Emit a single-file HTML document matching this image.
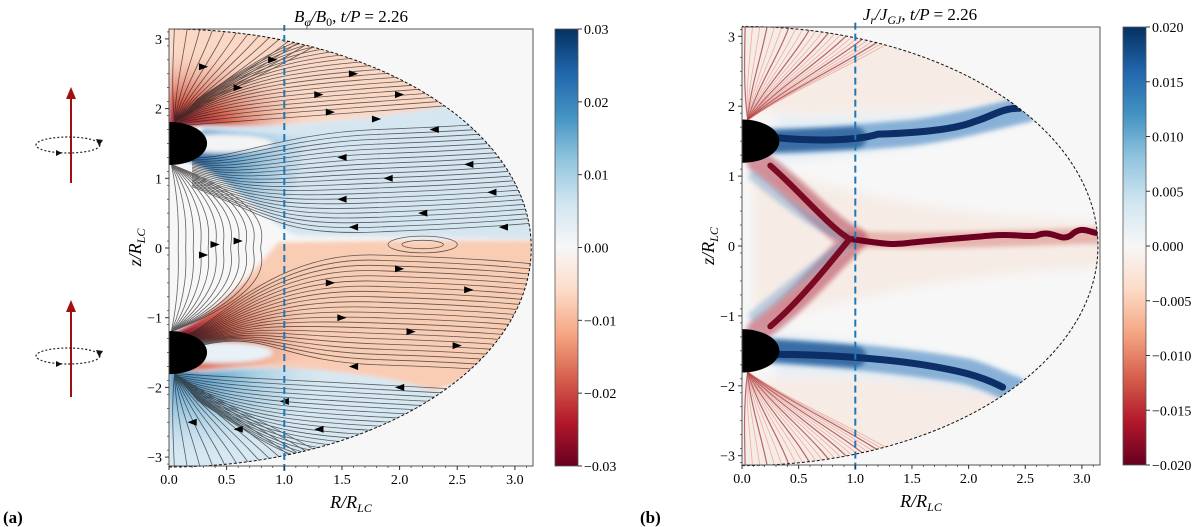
<!DOCTYPE html>
<html><head><meta charset="utf-8">
<style>
body{margin:0;background:#fff;}
svg{display:block;font-family:"Liberation Serif",serif;}
</style></head>
<body>
<svg id="fig" width="1200" height="527" viewBox="0 0 1200 527" xmlns="http://www.w3.org/2000/svg">
<defs>
<linearGradient id="rdbu" x1="0" y1="1" x2="0" y2="0">
<stop offset="0" stop-color="#67001f"/><stop offset="0.1" stop-color="#b2182b"/><stop offset="0.2" stop-color="#d6604d"/><stop offset="0.3" stop-color="#f4a582"/><stop offset="0.4" stop-color="#fddbc7"/><stop offset="0.5" stop-color="#f7f7f7"/><stop offset="0.6" stop-color="#d1e5f0"/><stop offset="0.7" stop-color="#92c5de"/><stop offset="0.8" stop-color="#4393c3"/><stop offset="0.9" stop-color="#2166ac"/><stop offset="1" stop-color="#053061"/>
</linearGradient>
<radialGradient id="redU" gradientUnits="userSpaceOnUse" cx="0.1" cy="1.7" r="1.2"><stop offset="0" stop-color="#8b0a26"/><stop offset="0.35" stop-color="#d6604d"/><stop offset="1" stop-color="#fbd3c0" stop-opacity="0"/></radialGradient>
<radialGradient id="redL" gradientUnits="userSpaceOnUse" cx="0.1" cy="-1.25" r="1.2"><stop offset="0" stop-color="#8b0a26"/><stop offset="0.35" stop-color="#d6604d"/><stop offset="1" stop-color="#f8c3a7" stop-opacity="0"/></radialGradient>
<radialGradient id="blueU" gradientUnits="userSpaceOnUse" cx="0.15" cy="1.25" r="1.3"><stop offset="0" stop-color="#2166ac"/><stop offset="0.4" stop-color="#7fb5d8"/><stop offset="1" stop-color="#d6e7f1" stop-opacity="0"/></radialGradient>
<radialGradient id="blueL" gradientUnits="userSpaceOnUse" cx="0.15" cy="-1.8" r="1.3"><stop offset="0" stop-color="#4a90c2"/><stop offset="0.4" stop-color="#9cc8e0"/><stop offset="1" stop-color="#d6e7f1" stop-opacity="0"/></radialGradient>
<clipPath id="clipL" clipPathUnits="userSpaceOnUse"><path d="M0,-3.1416 A3.1416,3.1416 0 0 1 0,3.1416 Z"/></clipPath>
<clipPath id="clipBox" clipPathUnits="userSpaceOnUse"><rect x="0" y="-3.2" width="3.2" height="6.4"/></clipPath>
<filter id="blur" x="-0.2" y="-0.2" width="1.4" height="1.4"><feGaussianBlur stdDeviation="0.02 0.03"/></filter>
<filter id="blurB" x="-0.3" y="-0.3" width="1.6" height="1.6"><feGaussianBlur stdDeviation="0.05 0.08"/></filter>
</defs>

<!-- LEFT PANEL -->
<g>
<rect x="169" y="29" width="364" height="437" fill="#f7f7f7"/>
<g transform="translate(169,248) scale(115.3,-69.7)">
<g clip-path="url(#clipL)" id="fieldA">
<g filter="url(#blur)">
<path d="M0,1.8 L0.3,1.78 C1,1.72 2,1.88 2.6,2.1 L3.3,3.3 L0,3.3 Z" fill="#fbd8c6"/>
<path d="M0,1.75 L0.3,1.76 C0.8,1.74 1.2,1.75 1.4,1.8 L0.6,3.3 L0,3.3 Z" fill="url(#redU)"/>
<path d="M0.1,1.3 C0.5,1.05 0.8,0.4 1.1,0.18 C1.6,0.16 2.5,0.15 3.3,0.12 L3.3,1.5 L2.6,2.1 C2,1.88 1,1.72 0.3,1.74 Z" fill="#d5e6f1"/>
<path d="M0.1,1.3 C0.5,1.05 0.8,0.5 1.0,0.3 L1.2,1.6 L0.3,1.7 Z" fill="url(#blueU)"/>
<path d="M0,-1.25 C0.4,-1.0 0.7,-0.4 0.95,0.08 C1.6,0.1 2.5,0.12 3.3,0.1 L3.3,-1.5 L2.3,-2.05 C2,-1.85 1,-1.62 0.3,-1.75 L0,-1.75 Z" fill="#f9ccb4"/>
<path d="M0,-1.25 C0.4,-1.0 0.7,-0.4 0.95,0.08 L1.3,-1.6 L0.3,-1.75 L0,-1.75 Z" fill="url(#redL)"/>
<path d="M0,-1.8 L0.3,-1.78 C1,-1.62 2,-1.85 2.3,-2.05 L3.3,-2.0 L3.3,-3.3 L0,-3.3 Z" fill="#d7e8f2"/>
<path d="M0,-1.75 L0.3,-1.78 C0.8,-1.7 1.2,-1.7 1.4,-1.75 L0.6,-3.3 L0,-3.3 Z" fill="url(#blueL)"/>
<ellipse cx="0.45" cy="1.5" rx="0.45" ry="0.13" fill="#f4f4f4"/>
<ellipse cx="0.45" cy="-1.5" rx="0.45" ry="0.15" fill="#e8f1f7"/>
</g>
<g id="streamL" fill="none" stroke="#222" opacity="0.7"></g>
</g>
<path d="M0,-3.1416 A3.1416,3.1416 0 0 1 0,3.1416" fill="none" stroke="#111" stroke-width="1" stroke-dasharray="3,2" vector-effect="non-scaling-stroke"/>
<g clip-path="url(#clipBox)">
<ellipse cx="0" cy="1.5" rx="0.33" ry="0.31" fill="#000"/>
<ellipse cx="0" cy="-1.5" rx="0.33" ry="0.31" fill="#000"/>
</g>
<line x1="1" y1="-3.2" x2="1" y2="3.2" stroke="#1f77b4" stroke-width="2" stroke-dasharray="7,4" vector-effect="non-scaling-stroke"/>
</g>
<rect x="169" y="29" width="364" height="437" fill="none" stroke="#555" stroke-width="1"/>
<g id="axesA"></g>
<text x="351" y="22" font-size="17" text-anchor="middle" font-style="italic">B<tspan font-size="12" dy="4">φ</tspan><tspan dy="-4">/B</tspan><tspan font-size="12" dy="4" font-style="normal">0</tspan><tspan dy="-4" font-style="normal">, </tspan> t/P <tspan font-style="normal">= 2.26</tspan></text>
<rect x="555" y="29" width="23" height="437" fill="url(#rdbu)" stroke="#555" stroke-width="0.8"/>
<g id="cbA"></g>
</g>

<!-- RIGHT PANEL -->
<g>
<rect x="742" y="27" width="358" height="438" fill="#f7f7f7"/>
<g transform="translate(742,246) scale(113.3,-69.9)">
<g clip-path="url(#clipL)">
<g filter="url(#blurB)">
<path d="M0,2 L0.3,1.9 C1,1.85 2,2.0 2.5,2.1 L3.3,3.3 L0,3.3 Z" fill="#f6e2d8" opacity="0.6"/>
<path d="M0.1,1.1 C0.8,0.9 1.5,0.4 3.3,0.35 L3.3,-0.3 C1.5,-0.4 0.8,-0.9 0.1,-1.1 Z" fill="#f6e0d4" opacity="0.5"/>
<path d="M0,-1.95 L0.3,-1.9 C1,-1.85 2,-2.0 2.5,-2.1 L3.3,-3.3 L0,-3.3 Z" fill="#f6e2d8" opacity="0.6"/>
<path d="M0.3,1.85 C1,1.8 2,1.95 2.6,2.05 L2.6,1.9 C2,1.5 1,1.3 0.3,1.2 Z" fill="#e3edf4"/>
<path d="M0.3,-1.85 C1,-1.8 2,-2.05 2.5,-2.2 L2.6,-1.95 C2,-1.6 1,-1.35 0.3,-1.25 Z" fill="#e3edf4"/>
</g>
<g id="streaksR" fill="none"></g>
<g fill="none" stroke-linecap="round" filter="url(#blur)">
<path d="M0.25,1.5 C0.6,1.5 1.0,1.55 1.5,1.62 C1.9,1.7 2.2,1.85 2.5,1.95" stroke="#3d7fbd" stroke-width="26" vector-effect="non-scaling-stroke" opacity="0.55"/>
<path d="M0.25,-1.5 C0.8,-1.55 1.5,-1.65 2.0,-1.8 C2.2,-1.9 2.3,-2.0 2.4,-2.05" stroke="#3d7fbd" stroke-width="26" vector-effect="non-scaling-stroke" opacity="0.55"/>
<path d="M0.3,1.5 L1.0,1.55 M0.3,-1.5 L1.0,-1.58" stroke="#1b4f8f" stroke-width="22" vector-effect="non-scaling-stroke" opacity="0.7"/>
<path d="M0.15,1.2 C0.5,0.8 0.8,0.2 1.0,0.1 M0.15,-1.2 C0.5,-0.8 0.8,-0.2 1.0,0.1" stroke="#a51c30" stroke-width="24" vector-effect="non-scaling-stroke" opacity="0.45"/>
<path d="M0.1,1.0 C0.4,0.6 0.7,0.2 1.0,0.1 M0.1,-1.0 C0.4,-0.6 0.7,-0.2 1.0,0.1" stroke="#6a9ccc" stroke-width="10" vector-effect="non-scaling-stroke" opacity="0.4"/>
<path d="M0.95,0.1 C1.5,0.05 2.2,0.1 3.15,0.15" stroke="#c0392b" stroke-width="16" vector-effect="non-scaling-stroke" opacity="0.3"/>
</g>
<g fill="none" stroke-linecap="round">
<path d="M0.3,1.55 C0.6,1.5 1.0,1.5 1.2,1.6 C1.6,1.62 1.9,1.68 2.05,1.78 C2.2,1.85 2.3,1.98 2.45,1.97" stroke="#0b2f66" stroke-width="7" vector-effect="non-scaling-stroke"/>
<path d="M0.3,-1.55 C0.7,-1.55 1.2,-1.6 1.6,-1.7 C1.9,-1.78 2.1,-1.85 2.3,-2.02" stroke="#0b2f66" stroke-width="7" vector-effect="non-scaling-stroke"/>
<path d="M0.95,0.1 C1.2,0.05 1.3,0.0 1.5,0.05 C1.8,0.1 2.0,0.12 2.2,0.15 C2.4,0.18 2.5,0.12 2.6,0.15 C2.75,0.25 2.8,0.05 2.9,0.15 C3.0,0.3 3.05,0.2 3.15,0.18" stroke="#6d0020" stroke-width="6" vector-effect="non-scaling-stroke"/>
<path d="M0.25,1.15 C0.5,0.8 0.75,0.3 0.95,0.1 M0.25,-1.15 C0.5,-0.8 0.75,-0.3 0.95,0.1" stroke="#7a0a22" stroke-width="6" vector-effect="non-scaling-stroke"/>
</g>
</g>
<path d="M0,-3.1416 A3.1416,3.1416 0 0 1 0,3.1416" fill="none" stroke="#111" stroke-width="1" stroke-dasharray="3,2" vector-effect="non-scaling-stroke"/>
<g clip-path="url(#clipBox)">
<ellipse cx="0" cy="1.5" rx="0.33" ry="0.31" fill="#000"/>
<ellipse cx="0" cy="-1.5" rx="0.33" ry="0.31" fill="#000"/>
</g>
<line x1="1" y1="-3.2" x2="1" y2="3.2" stroke="#1f77b4" stroke-width="2" stroke-dasharray="7,4" vector-effect="non-scaling-stroke"/>
</g>
<rect x="742" y="27" width="358" height="438" fill="none" stroke="#555" stroke-width="1"/>
<g id="axesB"></g>
<text x="920" y="20" font-size="17" text-anchor="middle" font-style="italic">J<tspan font-size="12" dy="4">r</tspan><tspan dy="-4">/J</tspan><tspan font-size="12" dy="4">GJ</tspan><tspan dy="-4" font-style="normal">, </tspan> t/P <tspan font-style="normal">= 2.26</tspan></text>
<rect x="1123" y="27" width="23" height="438" fill="url(#rdbu)" stroke="#555" stroke-width="0.8"/>
<g id="cbB"></g>
</g>

<!-- rotating dipole icons -->
<g>
<line x1="71" y1="183" x2="71" y2="96" stroke="#a01010" stroke-width="2"/>
<polygon points="71,87 66,99 76,99" fill="#a01010"/>
<ellipse cx="68" cy="145" rx="32" ry="8" fill="none" stroke="#222" stroke-width="1.2" stroke-dasharray="2,2"/>
<polygon points="99,146 96,139 103,140" fill="#111"/>
<polygon points="62,153 56,150 56,156" fill="#111"/>
</g>
<g>
<line x1="71" y1="397" x2="71" y2="309" stroke="#a01010" stroke-width="2"/>
<polygon points="71,300 66,312 76,312" fill="#a01010"/>
<ellipse cx="68" cy="356" rx="32" ry="8" fill="none" stroke="#222" stroke-width="1.2" stroke-dasharray="2,2"/>
<polygon points="99,357 96,350 103,351" fill="#111"/>
<polygon points="62,364 56,361 56,367" fill="#111"/>
</g>
<text x="3" y="523" font-size="17" font-weight="bold">(a)</text>
<text x="640" y="523" font-size="17" font-weight="bold">(b)</text>
</svg>

<script>
const xTicks = [0.0, 0.5, 1.0, 1.5, 2.0, 2.5, 3.0];
const xTickLabels = ["0.0","0.5","1.0","1.5","2.0","2.5","3.0"];
const yTicks = [3, 2, 1, 0, -1, -2, -3];
const yTickLabels = ["3","2","1","0","\u22121","\u22122","\u22123"];
const cbTicksA = [0.03, 0.02, 0.01, 0.00, -0.01, -0.02, -0.03];
const cbLabelsA = ["0.03","0.02","0.01","0.00","\u22120.01","\u22120.02","\u22120.03"];
const cbTicksB = [0.020, 0.015, 0.010, 0.005, 0.000, -0.005, -0.010, -0.015, -0.020];
const cbLabelsB = ["0.020","0.015","0.010","0.005","0.000","\u22120.005","\u22120.010","\u22120.015","\u22120.020"];

const NS = "http://www.w3.org/2000/svg";
function mk(tag, attrs, parent){const e=document.createElementNS(NS,tag);for(const k in attrs)e.setAttribute(k,attrs[k]);parent.appendChild(e);return e;}

function axes(gid, x0, y0, sx, sy, left, top, w, h){
  const g=document.getElementById(gid);
  xTicks.forEach((v,i)=>{
    const x=x0+v*sx;
    const t=mk('line',{x1:x,y1:top+h,x2:x,y2:top+h+4,stroke:'#333'},g);
    
    
    const l=mk('text',{x:x,y:top+h+18,'font-size':14,'text-anchor':'middle'},g);
    l.textContent=xTickLabels[i];
    
    
  });
  for(let v=0.1; v<3.15; v+=0.1){const x=x0+v*sx;mk('line',{x1:x,y1:top+h,x2:x,y2:top+h+2,stroke:'#333','stroke-width':0.7},g);}
  yTicks.forEach((v,i)=>{
    const y=y0-v*sy;
    const t=mk('line',{x1:left-4,y1:y,x2:left,y2:y,stroke:'#333'},g);
    
    
    const l=mk('text',{x:left-7,y:y+5,'font-size':14,'text-anchor':'end'},g);
    l.textContent=yTickLabels[i];
    
    
  });
  for(let v=-3.1; v<3.15; v+=0.2){const y=y0-v*sy;mk('line',{x1:left-2,y1:y,x2:left,y2:y,stroke:'#333','stroke-width':0.7},g);}
  const xl=mk('text',{x:left+w/2,y:top+h+42,'font-size':18,'text-anchor':'middle','font-style':'italic'},g);
  xl.innerHTML='R/R<tspan font-size="12" dy="4">LC</tspan>';
  
  
  const yl=mk('text',{x:0,y:0,'font-size':18,'text-anchor':'middle','font-style':'italic',transform:`translate(${left-28},${top+h/2}) rotate(-90)`},g);
  yl.innerHTML='z/R<tspan font-size="12" dy="4">LC</tspan>';
  
  
}
axes('axesA',169,248,115.3,69.7,169,29,364,437);
axes('axesB',742,246,113.3,69.9,742,27,358,438);

function cbar(gid, ticks, labels, x, top, h, vmax){
  const g=document.getElementById(gid);
  ticks.forEach((v,i)=>{
    const y=top+h*(vmax-v)/(2*vmax);
    const t=mk('line',{x1:x,y1:y,x2:x+4,y2:y,stroke:'#333'},g);
    
    
    const l=mk('text',{x:x+6,y:y+5,'font-size':14},g);
    l.textContent=labels[i];
    
    
  });
}
cbar('cbA',cbTicksA,cbLabelsA,578,29,437,0.03);
cbar('cbB',cbTicksB,cbLabelsB,1146,27,438,0.02);

const VE={'vector-effect':'non-scaling-stroke','stroke-width':0.8};
function sp(d,parent){return mk('path',Object.assign({d:d},VE),parent);}
const sl=document.getElementById('streamL');
for(let i=0;i<20;i++){
  const ez=1.9+i*0.065;
  sp(`M${0.05+i*0.01},${1.75+i*0.02} C${0.4+i*0.05},${1.8+i*0.08} 1.2,${ez} 3.3,${ez+0.25}`,sl);
}
for(let i=0;i<14;i++){
  const x2=0.05+i*0.12;
  sp(`M0.05,1.8 C${x2*0.3},2.3 ${x2*0.8},2.8 ${x2},3.3`,sl);
}
for(let i=0;i<22;i++){
  const z=1.65-i*0.07;
  sp(`M0.2,${1.3-i*0.02} C${0.5+i*0.02},${1.25-i*0.04} 1.0,${z} 1.8,${z+0.05} S3.0,${z+0.15} 3.3,${z+0.2}`,sl);
}
for(let i=0;i<22;i++){
  const z=-0.05-i*0.075;
  sp(`M0.15,${-1.25-i*0.01} C${0.4+i*0.02},-1.1 0.9,${z} 1.8,${z-0.05} S3.0,${z-0.15} 3.3,${z-0.2}`,sl);
}
for(let i=0;i<20;i++){
  const ez=-1.9-i*0.065;
  sp(`M${0.05+i*0.01},${-1.8-i*0.02} C${0.4+i*0.05},${-1.85-i*0.08} 1.2,${ez} 3.3,${ez-0.2}`,sl);
}
for(let i=0;i<14;i++){
  const x2=0.05+i*0.12;
  sp(`M0.05,-1.8 C${x2*0.3},-2.3 ${x2*0.8},-2.8 ${x2},-3.3`,sl);
}
for(let i=0;i<12;i++){
  const xm=0.08+i*0.065;
  sp(`M0.02,1.2 C${xm*1.2},0.6 ${xm},0.15 ${xm},0 S${xm*1.2},-0.6 0.02,-1.2`,sl);
}
mk('ellipse',Object.assign({cx:2.2,cy:0.05,rx:0.3,ry:0.12},VE),sl);
mk('ellipse',Object.assign({cx:2.2,cy:0.05,rx:0.18,ry:0.06},VE),sl);

const arrowPts=[[0.3,2.6],[0.6,2.3],[0.9,2.7],[1.3,2.2],[1.6,2.5],[1.4,1.95],[2.0,2.2],[1.8,1.85],[2.3,1.7],[1.5,1.3],[1.9,1.0],[2.6,1.2],[1.5,0.7],[2.2,0.5],[2.8,0.8],[1.6,0.3],[2.9,0.3],[1.4,-0.5],[2.0,-0.3],[2.6,-0.6],[1.5,-1.0],[2.1,-1.2],[2.5,-1.4],[1.6,-1.7],[2.0,-2.0],[1.0,-2.2],[0.6,-2.6],[1.3,-2.6],[0.2,-2.5],[0.4,0.05],[0.6,0.1],[0.3,-0.1]];
const arrowDirs=[1,1,1,1,1,1,1,1,-1,-1,-1,-1,-1,-1,-1,-1,-1,1,1,1,1,1,1,-1,-1,-1,-1,-1,-1,1,1,1];
const ag=document.getElementById('fieldA');
arrowPts.forEach((p,i)=>{
  const d=arrowDirs[i];
  const s=0.04;
  const a=mk('polygon',{points:`${p[0]+d*s},${p[1]} ${p[0]-d*s},${p[1]+0.05} ${p[0]-d*s},${p[1]-0.05}`,fill:'#000'},ag);
  
  
});

const sr=document.getElementById('streaksR');
for(let i=0;i<24;i++){
  const x2=0.03+i*0.07;
  const col=i%3?'#e08a74':'#8b0a26', w=i%3?0.8:1.2;
  mk('path',{d:`M0.05,1.8 C${x2*0.3},2.3 ${x2*0.8},2.8 ${x2},3.3`,stroke:col,'stroke-width':w,'vector-effect':'non-scaling-stroke',opacity:0.6},sr);
  mk('path',{d:`M0.05,-1.8 C${x2*0.3},-2.3 ${x2*0.8},-2.8 ${x2},-3.3`,stroke:col,'stroke-width':w,'vector-effect':'non-scaling-stroke',opacity:0.6},sr);
}
</script>
</body></html>
